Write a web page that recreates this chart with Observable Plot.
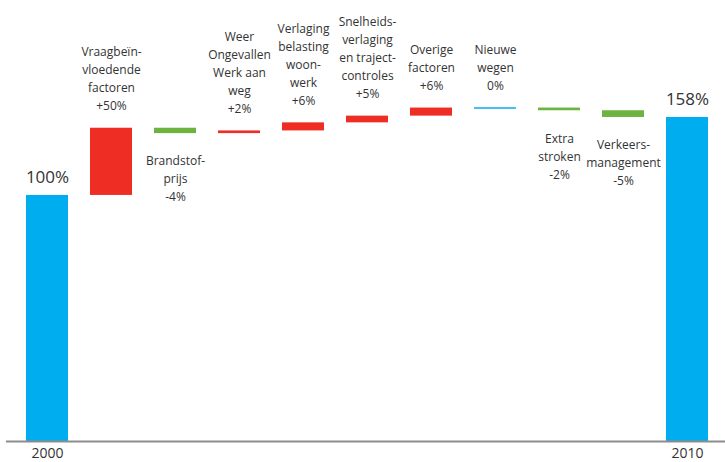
<!DOCTYPE html>
<html><head><meta charset="utf-8">
<script src="https://cdn.jsdelivr.net/npm/d3@7"></script>
<script src="https://cdn.jsdelivr.net/npm/@observablehq/plot@0.6"></script>
<style>body{margin:0;background:#fff}</style>
</head><body><div id="chart"></div>
<script>
const categories = ["2000", "Vraagbeïnvloedende factoren", "Brandstofprijs", "Weer Ongevallen Werk aan weg", "Verlaging belasting woon-werk", "Snelheidsverlaging en trajectcontroles", "Overige factoren", "Nieuwe wegen", "Extra stroken", "Verkeersmanagement", "2010"];
const labels = ["", "Vraagbeïn-\nvloedende\nfactoren", "Brandstof-\nprijs", "Weer\nOngevallen\nWerk aan\nweg", "Verlaging\nbelasting\nwoon-\nwerk", "Snelheids-\nverlaging\nen traject-\ncontroles", "Overige\nfactoren", "Nieuwe\nwegen", "Extra\nstroken", "Verkeers-\nmanagement", ""];
const values = [100, 50, -4, 2, 6, 5, 6, 0, -2, -5, 158];
const isTotal = [true, false, false, false, false, false, false, false, false, false, true];
const tickLabels = ["2000", "2010"];
// truncated value axis (the original chart does not start at zero)
const yDomain = [-83, 245];

const colors = {total: "#00aeef", up: "#ee2e24", down: "#6db33f", zero: "#45c1f1"};

let run = 0;
const rows = categories.map((c, i) => {
  const v = values[i];
  let start, end, kind;
  if (isTotal[i]) { start = yDomain[0]; end = v; run = v; kind = "total"; }
  else { start = run; end = run + v; run = end; kind = v > 0 ? "up" : v < 0 ? "down" : "zero"; }
  const pct = isTotal[i] ? v + "%" : (v > 0 ? "+" : v < 0 ? "-" : "") + Math.abs(v) + "%";
  return {cat: c, start, end, kind, top: Math.max(start, end), bottom: Math.min(start, end), label: labels[i], pct, v};
});

const W = 725, H = 462, MB = 21;
const chart = Plot.plot({
  width: W, height: H,
  marginLeft: 6, marginRight: 0, marginTop: 0, marginBottom: MB,
  style: {fontFamily: "'Open Sans', sans-serif", color: "#333", background: "#fff"},
  x: {domain: categories, paddingInner: 0.347, paddingOuter: 0.17, insetLeft: 7, insetRight: 5, axis: null},
  y: {domain: yDomain, axis: null},
  color: {type: "identity"},
  marks: [
    Plot.barY(rows.filter(d => d.kind !== "zero"), {x: "cat", y1: "start", y2: "end", fill: d => colors[d.kind]}),
    Plot.tickY(rows.filter(d => d.kind === "zero"), {x: "cat", y: "end", stroke: colors.zero, strokeWidth: 2}),
    Plot.ruleY([yDomain[0]], {stroke: "#8c8c8c", strokeWidth: 2}),
    Plot.axisX({ticks: tickLabels, tickSize: 0, tickPadding: 7, fontSize: 14, fill: "#333", label: null}),
    Plot.text(rows.filter(d => d.kind === "total"), {x: "cat", y: "top", text: "pct", lineAnchor: "bottom", dy: -12, fontSize: 17, fill: "#333"}),
    Plot.text(rows.filter(d => d.kind === "up" || d.kind === "zero"), {x: "cat", y: "top", text: d => d.label + "\n" + d.pct, lineAnchor: "bottom", dy: -18, fontSize: 12, lineHeight: 1.5, fill: "#333"}),
    Plot.text(rows.filter(d => d.kind === "down"), {x: "cat", y: "bottom", text: d => d.label + "\n" + d.pct, lineAnchor: "top", dy: 19, fontSize: 12, lineHeight: 1.5, fill: "#333"})
  ]
});
document.getElementById("chart").appendChild(chart);
</script>
</body></html>
